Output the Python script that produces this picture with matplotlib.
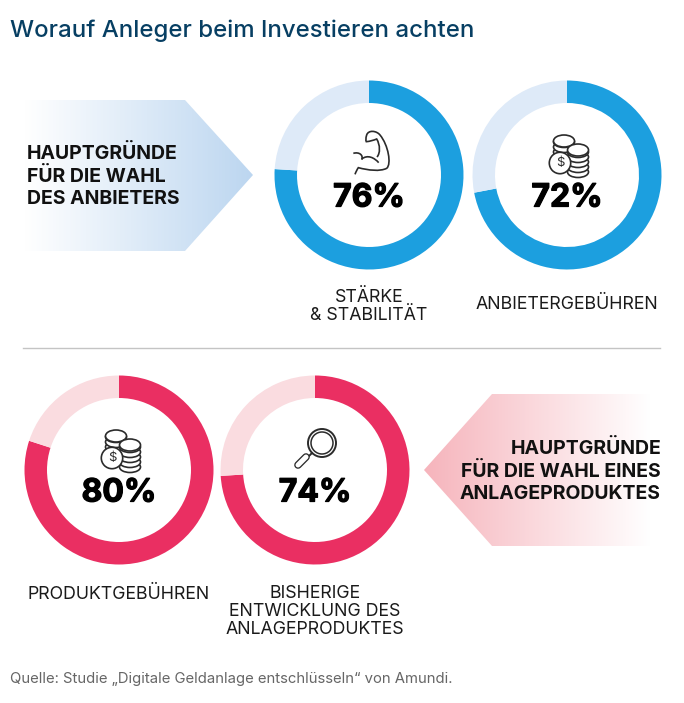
import numpy as np
import matplotlib
matplotlib.use("Agg")
import matplotlib.pyplot as plt
import matplotlib.patheffects as pe
from matplotlib.colors import LinearSegmentedColormap
from matplotlib.patches import Circle, Ellipse, Polygon, PathPatch
from matplotlib.path import Path

W, H = 684, 703

# data
title = "Worauf Anleger beim Investieren achten"
source = "Quelle: Studie „Digitale Geldanlage entschlüsseln“ von Amundi."
top_values = [76, 72]
bottom_values = [80, 74]
top_labels = ["STÄRKE\n& STABILITÄT", "ANBIETERGEBÜHREN"]
bottom_labels = ["PRODUKTGEBÜHREN", "BISHERIGE\nENTWICKLUNG DES\nANLAGEPRODUKTES"]
top_heading = "HAUPTGRÜNDE\nFÜR DIE WAHL\nDES ANBIETERS"
bottom_heading = "HAUPTGRÜNDE\nFÜR DIE WAHL EINES\nANLAGEPRODUKTES"

BLUE, LIGHT_BLUE = "#1c9fdf", "#deeaf8"
RED, LIGHT_RED = "#ea2f62", "#fadce0"
FONT = "Inter"

fig = plt.figure(figsize=(W / 100, H / 100), dpi=100, facecolor="white")


# pie drawn in its own axes, placed by pixel centre and radius
def donut(value, cx, cy, color, light):
    r = 94.5
    ax = fig.add_axes([(cx - r) / W, 1 - (cy + r) / H, 2 * r / W, 2 * r / H])
    ax.pie([value, 100 - value], colors=[color, light], startangle=90, counterclock=False,
           radius=1, wedgeprops=dict(width=22.5 / r))
    ax.set_xlim(-1, 1)
    ax.set_ylim(-1, 1)
    ax.set_axis_off()


donut(top_values[0], 369, 175, BLUE, LIGHT_BLUE)
donut(top_values[1], 567, 175, BLUE, LIGHT_BLUE)
donut(bottom_values[0], 119, 470, RED, LIGHT_RED)
donut(bottom_values[1], 315, 470, RED, LIGHT_RED)

# overlay in pixel coordinates for everything else
ov = fig.add_axes([0, 0, 1, 1], zorder=5)
ov.set_xlim(0, W)
ov.set_ylim(H, 0)
ov.set_axis_off()
ov.patch.set_alpha(0)


def arrow(points, c_left, c_right, x0, x1):
    y0, y1 = min(p[1] for p in points), max(p[1] for p in points)
    cmap = LinearSegmentedColormap.from_list("g", [c_left, c_right])
    im = ov.imshow(np.linspace(0, 1, 256)[None, :], cmap=cmap, extent=[x0, x1, y1, y0],
                   aspect="auto", zorder=1)
    im.set_clip_path(Polygon(points, transform=ov.transData))


arrow([(25, 100), (185, 100), (253, 175), (185, 251), (25, 251)], "#ffffff", "#bcd6f0", 25, 253)
arrow([(424, 470), (492, 394), (660, 394), (660, 546), (492, 546)], "#f6b4bc", "#ffffff", 424, 650)
ov.set_xlim(0, W)
ov.set_ylim(H, 0)

LW = 1.2
INK = "#2b2b2b"


def coins(cx, cy):
    for dx, top, bottom in [(-3, -34, -13), (11, -25, -3)]:
        x = cx + dx
        for y in np.arange(cy + bottom, cy + top, -5.0):
            ov.add_patch(Ellipse((x, y), 21, 11, fc="white", ec=INK, lw=LW, zorder=3))
        ov.add_patch(Ellipse((x, cy + top), 21, 12, fc="white", ec=INK, lw=LW, zorder=3))
    ov.add_patch(Circle((cx - 7, cy - 12), 10.7, fc="white", ec=INK, lw=LW, zorder=4))
    ov.text(cx - 7, cy - 12, "$", ha="center", va="center", fontsize=9.5, color=INK,
            family=FONT, zorder=5)


def magnifier(cx, cy):
    lens = (cx + 7, cy - 27)
    ov.add_patch(Circle(lens, 14, fc="white", ec=INK, lw=1.4, zorder=3))
    ov.add_patch(Circle(lens, 11, fc="white", ec=INK, lw=1.1, zorder=3))
    ov.plot([cx - 3, cx - 7], [cy - 17, cy - 13], color=INK, lw=1.4, zorder=3)
    ov.plot([cx - 9, cx - 17], [cy - 13, cy - 5], color=INK, lw=5.5, solid_capstyle="round", zorder=3)
    ov.plot([cx - 9, cx - 17], [cy - 13, cy - 5], color="white", lw=3.6, solid_capstyle="round", zorder=3)


def curve(pts):
    v = [(345 + x / 3, 125 + y / 3) for x, y in pts]
    path = Path(v, [Path.MOVETO] + [Path.CURVE4] * (len(v) - 1))
    ov.add_patch(PathPatch(path, fc="none", ec=INK, lw=LW, zorder=3))


def muscle():
    # outline
    curve([(30, 148), (33, 140), (36, 134), (40, 128),
           (70, 136), (105, 140), (125, 130),
           (140, 118), (130, 60), (105, 30),
           (95, 17), (70, 14), (65, 30),
           (62, 40), (62, 46), (64, 50),
           (75, 49), (85, 46), (95, 42),
           (106, 60), (106, 85), (96, 96)])
    curve([(25, 85), (42, 80), (56, 90), (50, 104)])
    curve([(50, 102), (68, 88), (88, 98), (101, 113)])


muscle()
coins(567, 175)
coins(119, 470)
magnifier(315, 470)

# percentages in the rings, thickened a little to match the heavy face
for v, cx, cy in [(top_values[0], 369, 198), (top_values[1], 567, 198),
                  (bottom_values[0], 119, 493), (bottom_values[1], 315, 493)]:
    ov.text(cx, cy, f"{v}%", ha="center", va="center", fontsize=23, fontweight="bold",
            family=FONT, color="black", zorder=6,
            path_effects=[pe.withStroke(linewidth=0.9, foreground="black")])

# captions
cap = dict(ha="center", va="center", fontsize=12.8, family=FONT, color="#1a1a1a",
           linespacing=1.06, zorder=6)
ov.text(369, 306.5, top_labels[0], **cap)
ov.text(567, 304, top_labels[1], **cap)
ov.text(119, 594, bottom_labels[0], **cap)
ov.text(315, 611.5, bottom_labels[1], **cap)

head = dict(va="center", fontsize=14, fontweight="bold", family=FONT, color="#111111",
            linespacing=1.3, zorder=6)
ov.text(27, 176, top_heading, ha="left", **head)
ov.text(661, 471, bottom_heading, ha="right", multialignment="right", **head)

ov.plot([23, 660], [347.5, 347.5], color="#c4c4c4", lw=1, zorder=2)

ov.text(10, 30.5, title, ha="left", va="center", fontsize=17.3, fontweight="medium",
        family=FONT, color="#073f63")
ov.text(10, 679, source, ha="left", va="center", fontsize=10.7, family=FONT, color="#666666")

fig.savefig("out.png", dpi=100)
